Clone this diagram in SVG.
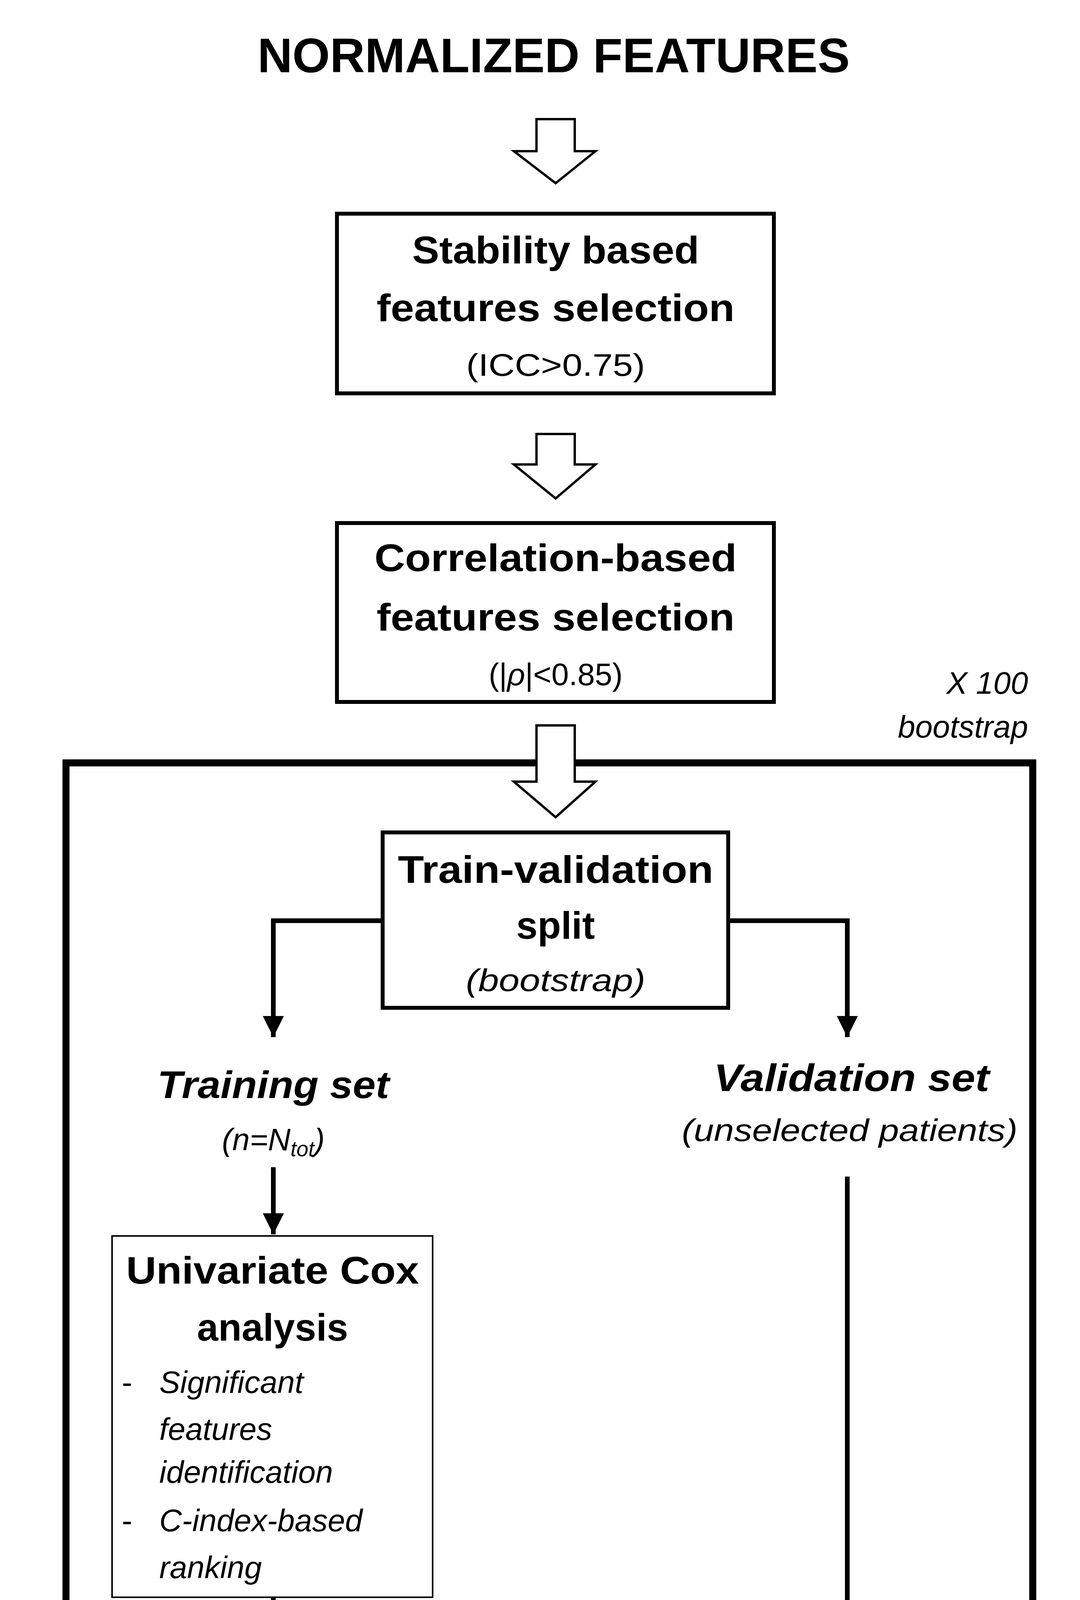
<svg xmlns="http://www.w3.org/2000/svg" width="2766" height="5381" viewBox="0 0 2766 5381">
<defs>
<style>
text{font-family:"Liberation Sans",Arial,sans-serif;fill:#000;text-anchor:middle}
.t{font-size:124px;font-weight:bold}
.b{font-size:98px;font-weight:bold}
.r{font-size:80px}
.i{font-size:80px;font-style:italic}
.bi{font-size:98px;font-weight:bold;font-style:italic}
.hol{fill:#fff;stroke:#000;stroke-width:6;stroke-linejoin:miter}
.thick{fill:#fff;stroke:#000;stroke-width:10}
.thin{fill:#fff;stroke:#000;stroke-width:4}
.con{fill:none;stroke:#000;stroke-width:12}
</style>
<marker id="ah" viewBox="0 0 10 10" refX="10" refY="5" markerWidth="4.5" markerHeight="4.5" orient="auto" markerUnits="strokeWidth"><path d="M0,0L10,5L0,10z" fill="#000"/></marker>
</defs>
<rect width="2766" height="5381" fill="#fff"/>
<rect id="frame" x="169" y="1953" width="2476" height="3006" fill="none" stroke="#000" stroke-width="18"/>
<text id="title" class="t" x="1418" y="185" textLength="1517" lengthAdjust="spacingAndGlyphs">NORMALIZED FEATURES</text>
<g id="arrows">
<path class="hol" d="M1374,305H1472V387H1525L1423,469L1316,387H1374Z"/>
<path class="hol" d="M1374,1111H1472V1189H1525L1423,1276L1316,1189H1374Z"/>
<path class="hol" d="M1374,1857H1472V2001H1525L1423,2092L1316,2001H1374Z"/>
<path class="hol" d="M1374,4890H1472V5027H1525L1423,5124L1316,5027H1374Z"/>
</g>
<g id="connectors">
<path class="con" marker-end="url(#ah)" d="M980,2357H700V2655"/>
<path class="con" marker-end="url(#ah)" d="M1865,2357H2170V2655"/>
<path class="con" marker-end="url(#ah)" d="M700,2988V3160"/>
<path class="con" marker-end="url(#ah)" d="M700,4089V4285H1060V4490"/>
<path class="con" marker-end="url(#ah)" d="M2170,3012V4285H1773V4490"/>
</g>
<g id="stability">
<rect class="thick" x="863" y="547" width="1119" height="460"/>
<text class="b" x="1423" y="674" textLength="735" lengthAdjust="spacingAndGlyphs">Stability based</text>
<text class="b" x="1423" y="822" textLength="917" lengthAdjust="spacingAndGlyphs">features selection</text>
<text class="r" x="1423" y="962" textLength="458" lengthAdjust="spacingAndGlyphs">(ICC&gt;0.75)</text>
</g>
<g id="correlation">
<rect class="thick" x="863" y="1339" width="1119" height="458"/>
<text class="b" x="1423" y="1462" textLength="928" lengthAdjust="spacingAndGlyphs">Correlation-based</text>
<text class="b" x="1423" y="1614" textLength="917" lengthAdjust="spacingAndGlyphs">features selection</text>
<text class="r" x="1423" y="1754">(|<tspan font-style="italic">ρ</tspan>|&lt;0.85)</text>
</g>
<g id="bootlabel">
<text class="i" x="2633" y="1776" style="text-anchor:end">X 100</text>
<text class="i" x="2633" y="1888" style="text-anchor:end">bootstrap</text>
</g>
<g id="split">
<rect class="thick" x="980" y="2131" width="885" height="449" stroke-width="9"/>
<text class="b" x="1423" y="2260" textLength="808" lengthAdjust="spacingAndGlyphs">Train-validation</text>
<text class="b" x="1423" y="2403">split</text>
<text class="i" x="1423" y="2537" textLength="460" lengthAdjust="spacingAndGlyphs">(bootstrap)</text>
</g>
<g id="training">
<text class="bi" x="700" y="2811" textLength="594" lengthAdjust="spacingAndGlyphs">Training set</text>
<text class="i" x="700" y="2945">(n=N<tspan font-size="55" dy="15">tot</tspan><tspan dy="-15">)</tspan></text>
</g>
<g id="validation">
<text class="bi" x="2181" y="2793" textLength="706" lengthAdjust="spacingAndGlyphs">Validation set</text>
<text class="i" x="2176" y="2921" textLength="860" lengthAdjust="spacingAndGlyphs">(unselected patients)</text>
</g>
<g id="univariate">
<rect class="thin" x="287" y="3164" width="821" height="925"/>
<text class="b" x="698" y="3286" textLength="750" lengthAdjust="spacingAndGlyphs">Univariate Cox</text>
<text class="b" x="698" y="3432">analysis</text>
<g style="text-anchor:start">
<text class="r" x="312" y="3566" style="text-anchor:start">-</text>
<text class="i" x="408" y="3566" style="text-anchor:start">Significant</text>
<text class="i" x="408" y="3686" style="text-anchor:start">features</text>
<text class="i" x="408" y="3796" style="text-anchor:start">identification</text>
<text class="r" x="312" y="3920" style="text-anchor:start">-</text>
<text class="i" x="408" y="3920" style="text-anchor:start">C-index-based</text>
<text class="i" x="408" y="4040" style="text-anchor:start">ranking</text>
</g>
</g>
<g id="multivariate">
<rect class="thin" x="688" y="4494" width="1470" height="303"/>
<text class="b" x="1423" y="4614" textLength="1286" lengthAdjust="spacingAndGlyphs">Multivariate Cox analysis</text>
<text class="i" x="1421" y="4742" textLength="1282" lengthAdjust="spacingAndGlyphs">(Optimal features set selection<tspan font-style="normal">)</tspan></text>
</g>
<text id="result" class="t" x="1421" y="5290" textLength="1264" lengthAdjust="spacingAndGlyphs">SELECTED FEATURES</text>
</svg>
